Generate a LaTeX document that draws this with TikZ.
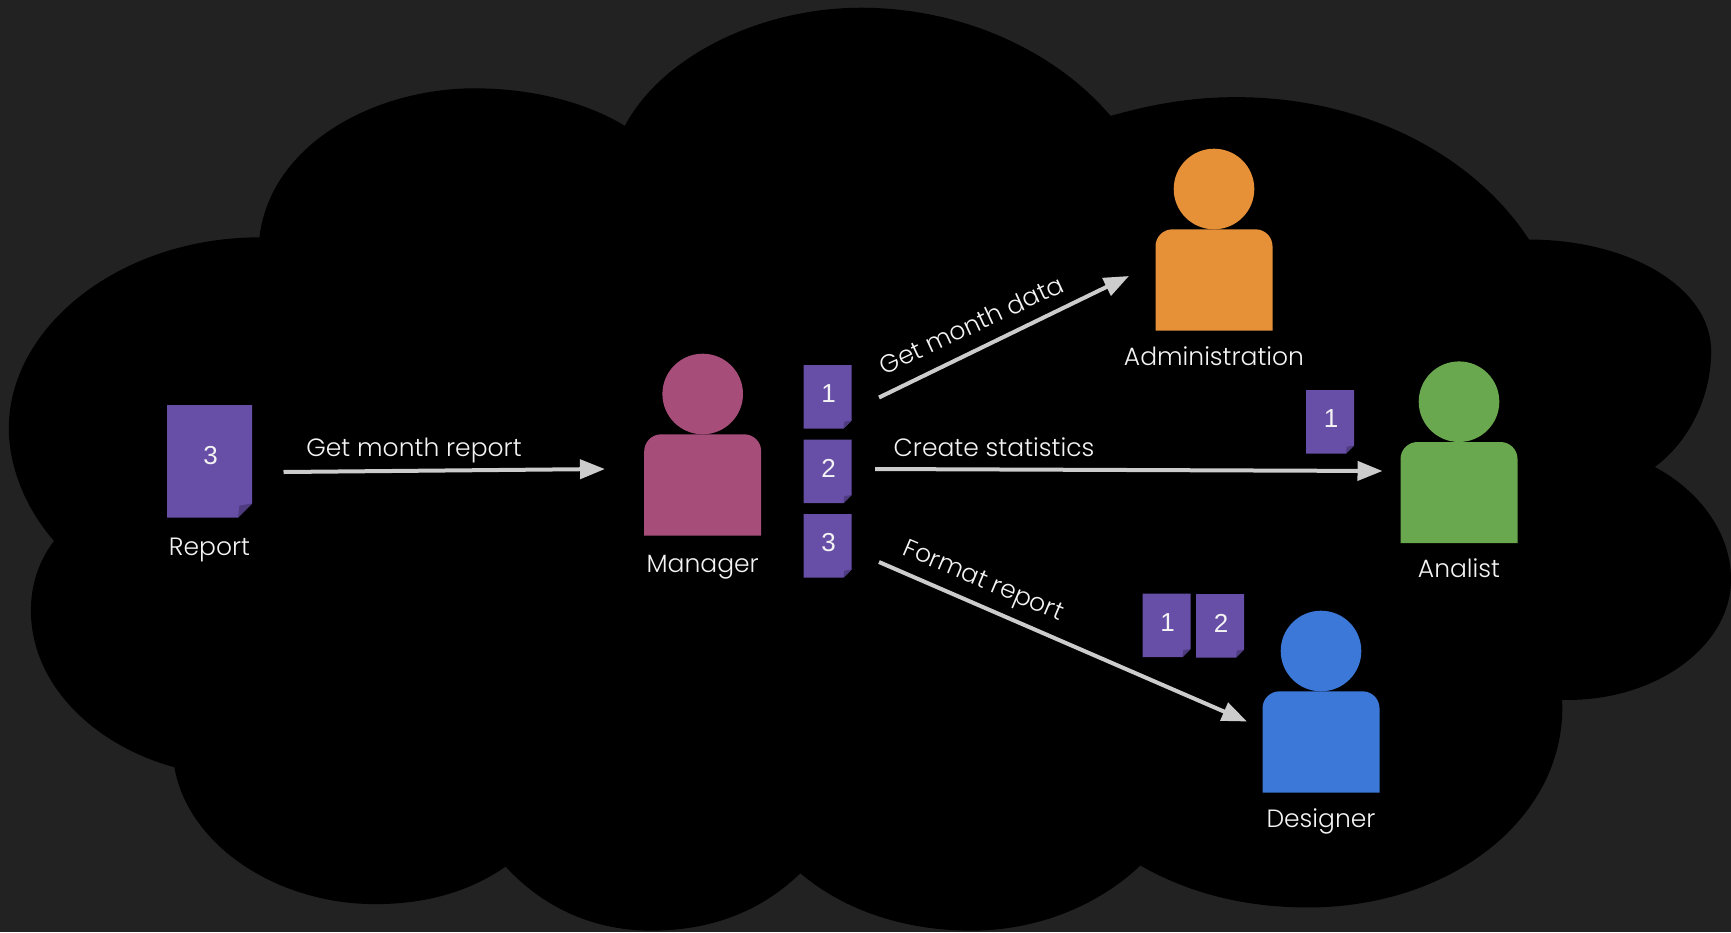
\documentclass[tikz,border=0pt]{standalone}
\usepackage{fontspec}
\usetikzlibrary{arrows.meta}
\setmainfont{Poppins Light}
\newfontfamily\digitfont{Liberation Sans}
\definecolor{bgc}{HTML}{222222}
\definecolor{docc}{HTML}{674EA7}
\definecolor{foldc}{HTML}{4F3B80}
\definecolor{mgrc}{HTML}{A64D79}
\definecolor{admc}{HTML}{E69138}
\definecolor{anac}{HTML}{6AA84F}
\definecolor{desc}{HTML}{3C78D8}
\definecolor{arrc}{HTML}{CCCCCC}
\definecolor{txtc}{HTML}{F3F3F3}
\tikzset{
  lab/.style={text=txtc,font=\fontsize{25}{28}\selectfont,inner sep=0pt,anchor=base},
  dig/.style={text=txtc,font=\digitfont\fontsize{26}{28}\selectfont,inner sep=0pt},
  flow/.style={draw=arrc,line width=4pt,-{Triangle[length=25pt,width=19pt]}},
}
% person: name, colour, head-centre x, y, label, label baseline y
\newcommand{\person}[6]{%
  \node[circle,fill=#2,minimum size=80.6pt,inner sep=0pt] (#1head) at (#3,#4) {};
  \fill[#2] (#3-58.5,#4+141.5) -- (#3-58.5,#4+57.3)
    .. controls (#3-58.5,#4+47.9) and (#3-50.9,#4+40.3) .. (#3-41.5,#4+40.3)
    -- (#3+41.5,#4+40.3)
    .. controls (#3+50.9,#4+40.3) and (#3+58.5,#4+47.9) .. (#3+58.5,#4+57.3)
    -- (#3+58.5,#4+141.5) -- cycle;
  \node[lab] (#1lab) at (#3,#6) {#5};
}
% doc: name, left, top, width, height, fold, digit
\newcommand{\docu}[7]{%
  \fill[docc] (#2,#3) -- (#2+#4,#3) -- (#2+#4,#3+#5-#6) -- (#2+#4-#6,#3+#5) -- (#2,#3+#5) -- cycle;
  \fill[foldc] (#2+#4,#3+#5-#6) -- (#2+#4-#6,#3+#5) -- (#2+#4-#6*0.9,#3+#5-#6*0.85) -- cycle;
  \node[dig] (#1) at (#2+#4/2+1,#3+#5*0.44+1) {#7};
}
\begin{document}
\begin{tikzpicture}[x=1pt,y=-1pt]
\useasboundingbox (0,0) rectangle (1731,932);
\fill[bgc] (0,0) rectangle (1731,932);
\begin{scope}[x=1.10395pt,y=-1.10395pt]
\fill[black] (235,215)
 .. controls (245,130) and (340,80) .. (430,80)
 .. controls (480,80) and (530,92) .. (566,114)
 .. controls (600,50) and (690,7) .. (780,7)
 .. controls (870,7) and (955,45) .. (1006,105)
 .. controls (1045,94) and (1080,88) .. (1120,88)
 .. controls (1235,88) and (1335,140) .. (1385,217)
 .. controls (1475,217) and (1550,260) .. (1550,318)
 .. controls (1550,360) and (1530,400) .. (1499,423)
 .. controls (1540,445) and (1568,483) .. (1568,525)
 .. controls (1568,585) and (1500,636) .. (1415,634)
 .. controls (1420,740) and (1315,822) .. (1185,822)
 .. controls (1125,822) and (1075,808) .. (1033,784)
 .. controls (995,820) and (940,843) .. (880,843)
 .. controls (820,843) and (765,825) .. (725,791)
 .. controls (690,825) and (645,843) .. (590,843)
 .. controls (535,843) and (490,820) .. (458,785)
 .. controls (425,808) and (385,819) .. (340,819)
 .. controls (250,819) and (170,765) .. (158,695)
 .. controls (85,675) and (28,620) .. (28,553)
 .. controls (28,530) and (35,508) .. (49,490)
 .. controls (25,463) and (8,425) .. (8,388)
 .. controls (8,295) and (110,215) .. (235,215)
 -- cycle;
\end{scope}
\person{mgr}{mgrc}{702.7}{394}{Manager}{572.5}
\person{adm}{admc}{1214}{189}{Administration}{365}
\person{ana}{anac}{1459}{401.7}{Analist}{577.5}
\person{des}{desc}{1321}{651}{Designer}{827}
\docu{rep}{167}{405}{85}{112.5}{14}{3}
\node[lab] (replab) at (209.5,555) {Report};
\docu{da}{803.5}{365}{48}{63.5}{8}{1}
\docu{db}{803.5}{439.5}{48}{63.5}{8}{2}
\docu{dc}{803.5}{514}{48}{63.5}{8}{3}
\docu{dd}{1306}{390}{48}{63.5}{8}{1}
\docu{de}{1142.5}{593.5}{48}{63.5}{8}{1}
\docu{df}{1196}{594}{48}{63.5}{8}{2}
\coordinate (a1) at (283.5,472);
\coordinate (a2) at (605,469);
\coordinate (b1) at (879,397.5);
\coordinate (b2) at (1129,276);
\coordinate (c1) at (875,469);
\coordinate (c2) at (1382.5,471);
\coordinate (d1) at (879,562);
\coordinate (d2) at (1247,721.5);
\draw[flow] (a1) -- (a2);
\draw[flow] (b1) -- (b2);
\draw[flow] (c1) -- (c2);
\draw[flow] (d1) -- (d2);
\node[lab] (t1) at (414,456) {Get month report};
\node[lab,rotate=25] (t2) at (975,333) {Get month data};
\node[lab] (t3) at (994,456) {Create statistics};
\node[lab,rotate=-23] (t4) at (980.5,587.5) {Format report};
\end{tikzpicture}
\end{document}
